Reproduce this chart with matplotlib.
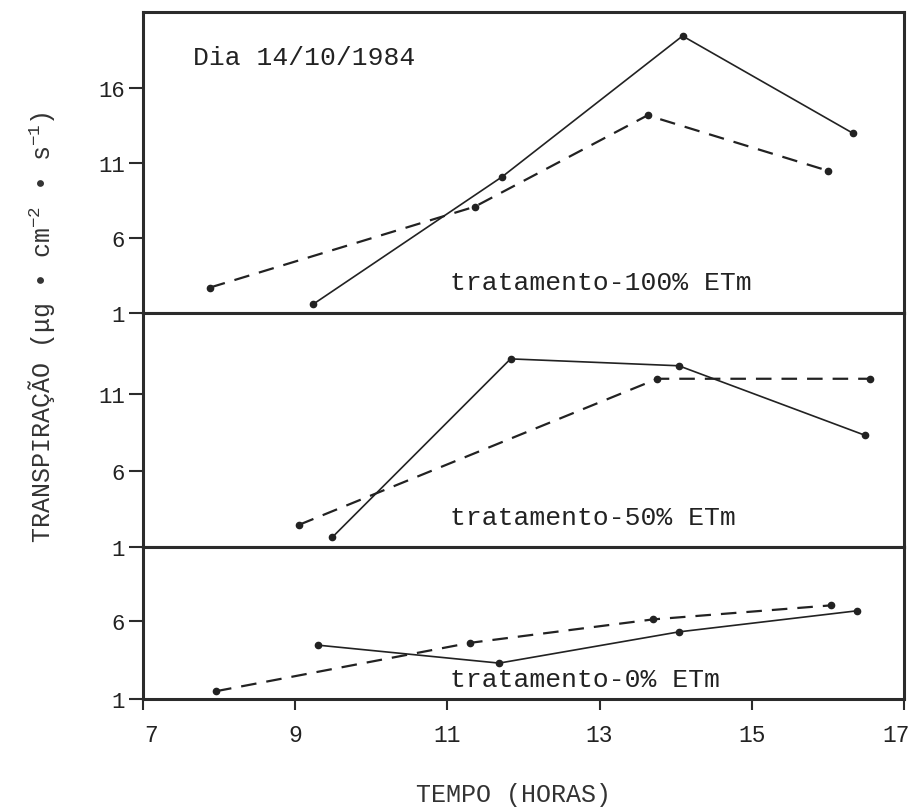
import matplotlib
matplotlib.use("Agg")
import matplotlib.pyplot as plt
import matplotlib.transforms as mtransforms

plt.rcParams['font.family'] = ['Liberation Mono', 'DejaVu Sans Mono']
plt.rcParams['mathtext.fontset'] = 'custom'
plt.rcParams['mathtext.rm'] = 'Liberation Mono'
plt.rcParams['mathtext.it'] = 'Liberation Mono'
plt.rcParams['mathtext.bf'] = 'Liberation Mono'

# ---- data (hours, transpiration) ----
top_solid_x = [9.24, 11.72, 14.09, 16.33]
top_solid_y = [1.6, 10.1, 19.5, 13.0]
top_dash_x = [7.88, 11.36, 13.63, 16.0]
top_dash_y = [2.7, 8.1, 14.2, 10.5]

mid_solid_x = [9.49, 11.83, 14.04, 16.49]
mid_solid_y = [1.65, 13.3, 12.85, 8.3]
mid_dash_x = [9.05, 13.76, 16.55]
mid_dash_y = [2.45, 12.0, 12.0]

bot_solid_x = [9.30, 11.68, 14.04, 16.38]
bot_solid_y = [4.45, 3.3, 5.3, 6.65]
bot_dash_x = [7.96, 11.30, 13.70, 16.04]
bot_dash_y = [1.5, 4.6, 6.1, 7.0]

x_ticks = [7, 9, 11, 13, 15, 17]
top_yticks = [1, 6, 11, 16]
mid_yticks = [1, 6, 11]
bot_yticks = [1, 6]

panel_labels = ["tratamento-100% ETm", "tratamento-50% ETm", "tratamento-0% ETm"]
date_label = "Dia 14/10/1984"

fig = plt.figure(figsize=(9.15, 8.12), dpi=100)
gs = fig.add_gridspec(3, 1, height_ratios=[301, 234, 152], hspace=0,
                      left=143/915, right=904/915, top=1-13/812, bottom=1-700/812)
axes = [fig.add_subplot(gs[i]) for i in range(3)]

ink = '#222222'
spine_c = '#2b2b2b'

series = [
    (top_solid_x, top_solid_y, top_dash_x, top_dash_y, (1, 21.1), top_yticks),
    (mid_solid_x, mid_solid_y, mid_dash_x, mid_dash_y, (1, 16.3), mid_yticks),
    (bot_solid_x, bot_solid_y, bot_dash_x, bot_dash_y, (1, 10.74), bot_yticks),
]

text_y = [0.080, 0.098, 0.086]

for i, (ax, (sx, sy, dx, dy, yl, yt)) in enumerate(zip(axes, series)):
    ax.plot(sx, sy, '-', color=ink, lw=1.2, marker='o', ms=4.5, mfc=ink, mec=ink)
    ax.plot(dx, dy, color=ink, lw=1.6, dashes=(7, 4.5), marker='o', ms=4.5, mfc=ink, mec=ink)
    ax.set_xlim(7, 17)
    ax.set_ylim(*yl)
    ax.set_yticks(yt)
    ax.set_yticklabels([str(t) for t in yt])
    for s in ax.spines.values():
        s.set_linewidth(2.2)
        s.set_color(spine_c)
    ax.tick_params(axis='y', direction='out', length=10, width=1.5, color=spine_c,
                   labelsize=16, pad=3, labelcolor=ink)
    if i < 2:
        ax.tick_params(axis='x', bottom=False, labelbottom=False)
    else:
        ax.set_xticks(x_ticks)
        ax.set_xticklabels([str(t) for t in x_ticks])
        ax.tick_params(axis='x', direction='out', length=8, width=1.5, color=spine_c,
                       labelsize=16.5, pad=9, labelcolor=ink)
        # nudge the first and last labels like the original
        offs = {0: 8, len(x_ticks) - 1: -8}
        for j, lab in enumerate(ax.get_xticklabels()):
            if j in offs:
                lab.set_transform(lab.get_transform() +
                                  mtransforms.ScaledTranslation(offs[j] / 100, 0, fig.dpi_scale_trans))
    ax.text(0.403, text_y[i], panel_labels[i], transform=ax.transAxes,
            ha='left', va='baseline', fontsize=19, color=ink)

axes[0].text(0.066, 0.827, date_label, transform=axes[0].transAxes,
             ha='left', va='baseline', fontsize=19, color=ink)

fig.text(0.045, 0.597, "TRANSPIRAÇÃO (μg • cm$^{-2}$ • s$^{-1}$)", rotation=90,
         ha='center', va='center', fontsize=18, color='#333333')
fig.text(0.561, 0.021, "TEMPO (HORAS)", ha='center', va='center', fontsize=18,
         color='#333333')

fig.savefig("out.png", dpi=100)
